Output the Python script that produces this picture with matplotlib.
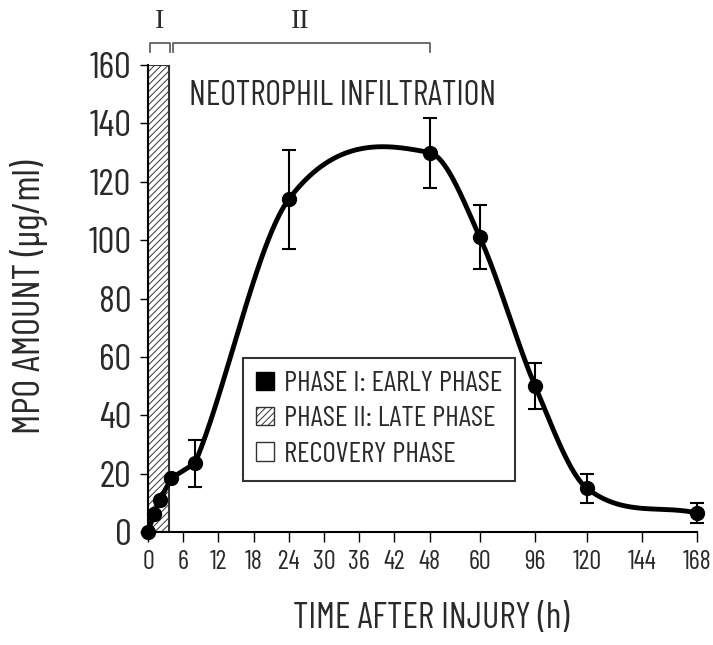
import numpy as np
import matplotlib
matplotlib.use("Agg")
import matplotlib.pyplot as plt
from matplotlib.patches import Patch
from matplotlib import font_manager as fm

# ---- data ----
hours = [0, 1, 2, 4, 8, 24, 48, 60, 96, 120, 168]
mpo = [0, 6, 11, 18.5, 23.5, 114, 130, 101, 50, 15, 6.5]
mpo_err = [0, 0, 0, 0, 8, 17, 12, 11, 8, 5, 3.5]
tick_hours = [0, 6, 12, 18, 24, 30, 36, 42, 48, 60, 96, 120, 144, 168]
yticks = [0, 20, 40, 60, 80, 100, 120, 140, 160]
phase1_end = 3.6
legend_labels = ["PHASE I: EARLY PHASE", "PHASE II: LATE PHASE", "RECOVERY PHASE"]

# layout of the (non-linear) time axis, in slot units
tick_slots = [0, 1, 2, 3, 4, 5, 6, 7, 8, 9.43, 11.0, 12.47, 14.03, 15.6]


def fwd(h):
    return np.interp(h, tick_hours, tick_slots)


def inv(s):
    return np.interp(s, tick_slots, tick_hours)


def hermite_curve(x, y, start, n=80):
    """Catmull-Rom style cubic Hermite through (x, y) from index `start`."""
    x = np.asarray(x, float); y = np.asarray(y, float)
    m = np.empty_like(y)
    m[1:-1] = (y[2:] - y[:-2]) / (x[2:] - x[:-2])
    m[0] = (y[1] - y[0]) / (x[1] - x[0])
    m[-1] = (y[-1] - y[-2]) / (x[-1] - x[-2])
    xs, ys = [], []
    for i in range(start, len(x) - 1):
        h = x[i + 1] - x[i]
        t = np.linspace(0, 1, n)
        h00 = 2 * t**3 - 3 * t**2 + 1
        h10 = t**3 - 2 * t**2 + t
        h01 = -2 * t**3 + 3 * t**2
        h11 = t**3 - t**2
        xs.append(x[i] + t * h)
        ys.append(h00 * y[i] + h10 * h * m[i] + h01 * y[i + 1] + h11 * h * m[i + 1])
    return np.concatenate(xs), np.concatenate(ys)


available = {f.name for f in fm.fontManager.ttflist}
main_font = next((f for f in ["Barlow Condensed", "Archivo Narrow", "Roboto Condensed",
                              "Liberation Sans Narrow"] if f in available), "DejaVu Sans")
FONT = [main_font, "DejaVu Sans"]
SERIF = ["Liberation Serif", "DejaVu Serif"]
plt.rcParams["font.family"] = FONT
plt.rcParams["hatch.linewidth"] = 0.7

TXT = "#2a2a2a"

fig = plt.figure(figsize=(7.13, 6.45), dpi=100)
ax = fig.add_axes([148 / 713, 1 - 532 / 645, (697 - 148) / 713, (532 - 65) / 645])
ax.set_xscale("function", functions=(fwd, inv))
ax.set_xlim(0, 168)
ax.set_ylim(0, 160)

# phase I hatched bar
ax.bar(0, 160, width=phase1_end, align="edge", facecolor="white",
       edgecolor="#333333", hatch="/////", linewidth=1.5, zorder=1)

# curve: straight early segment, smooth curve afterwards
h_arr = np.array(hours, float)
y_arr = np.array(mpo, float)
early = h_arr <= 8
ax.plot(h_arr[early], y_arr[early], color="black", lw=3.5, zorder=3,
        solid_capstyle="round", clip_on=False)
i8 = int(np.where(h_arr == 8)[0][0])
s_c, y_c = hermite_curve(fwd(h_arr), y_arr, i8)
ax.plot(inv(s_c), y_c, color="black", lw=3.5, zorder=3)

ax.errorbar(hours, mpo, yerr=mpo_err, fmt="o", color="black", ms=10,
            ecolor="black", elinewidth=1.5, capsize=5, capthick=1.5,
            zorder=4, clip_on=False)

# axes styling
for sp in ["top", "right"]:
    ax.spines[sp].set_visible(False)
ax.spines["left"].set_linewidth(1.5)
ax.spines["bottom"].set_linewidth(1.5)
ax.set_xticks(tick_hours)
ax.set_xticklabels([str(t) for t in tick_hours], fontsize=19, color=TXT)
ax.set_yticks(yticks)
ax.set_yticklabels([str(t) for t in yticks], fontsize=27, color=TXT)
ax.tick_params(axis="x", length=7, width=1, direction="out", pad=6)
ax.tick_params(axis="y", length=6, width=1, direction="out", pad=6)
ax.minorticks_off()

fig.text(431 / 713, 1 - 619 / 645, "TIME AFTER INJURY (h)", fontsize=26,
         color=TXT, ha="center", va="center")
fig.text(29 / 713, 1 - 297 / 645, "MPO AMOUNT (\u00b5g/ml)", fontsize=28,
         color=TXT, ha="center", va="center", rotation=90)

ax.text(7, 149.5, "NEOTROPHIL INFILTRATION", fontsize=24.5, color=TXT,
        va="center", ha="left")

# phase brackets above the axes
br_y, br_tip = 167.5, 164.3
for (a, b) in [(0.3, 3.7), (4.3, 48)]:
    ax.plot([a, a, b, b], [br_tip, br_y, br_y, br_tip], color="#555555",
            lw=1.2, clip_on=False)
ax.text(2.0, 175, "I", fontsize=20, family=SERIF,
        ha="center", va="center", color=TXT)
ax.text(26, 175, "II", fontsize=20, family=SERIF,
        ha="center", va="center", color=TXT)

handles = [Patch(facecolor="black", edgecolor="black"),
           Patch(facecolor="white", edgecolor="#333333", hatch="/////"),
           Patch(facecolor="white", edgecolor="#333333")]
leg = ax.legend(handles, legend_labels, loc="upper left",
                bbox_to_anchor=(0.173, 0.3726), fontsize=21, frameon=True,
                fancybox=False, edgecolor="black", handlelength=0.6,
                handleheight=0.6, handletextpad=0.35, labelspacing=0.32,
                borderpad=0.45, borderaxespad=0)
leg.get_frame().set_linewidth(1.5)
for t in leg.get_texts():
    t.set_color(TXT)

fig.savefig("out.png", dpi=100)
